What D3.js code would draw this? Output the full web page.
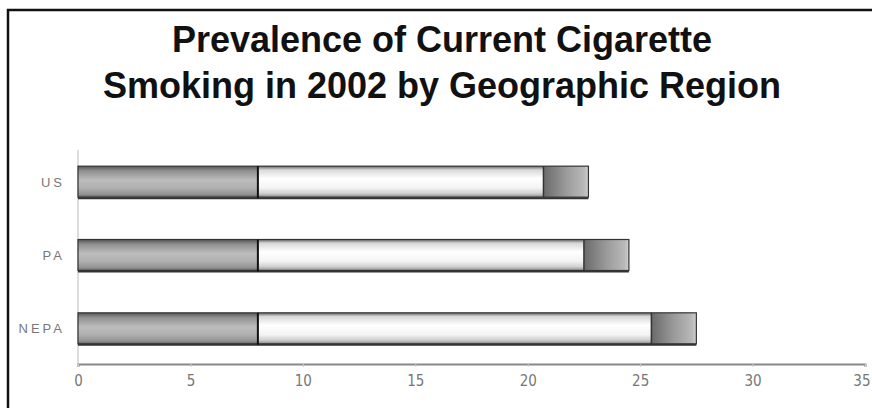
<!DOCTYPE html>
<html><head><meta charset="utf-8">
<script src="https://cdn.jsdelivr.net/npm/d3@7"></script>
<style>body{margin:0;background:#fff}svg{display:block}</style>
</head><body>
<svg id="c" width="872" height="408"></svg>
<script>
const categories = ["US", "PA", "NEPA"];
const baseValues = [8, 8, 8];          // first (gray) segment end
const midValues = [20.7, 22.5, 25.5];  // white segment end
const endValues = [22.7, 24.5, 27.5];  // dark end segment end
const tickValues = [0, 5, 10, 15, 20, 25, 30, 35];
const titleLines = ["Prevalence of Current Cigarette", "Smoking in 2002 by Geographic Region"];

const svg = d3.select("#c");
const defs = svg.append("defs");

const g1 = defs.append("linearGradient").attr("id","gBase").attr("x1",0).attr("y1",0).attr("x2",0).attr("y2",1);
[[0,"#555"],[0.15,"#909090"],[0.45,"#bcbcbc"],[0.7,"#b0b0b0"],[0.9,"#949494"],[1,"#666"]].forEach(s=>g1.append("stop").attr("offset",s[0]).attr("stop-color",s[1]));
const g2 = defs.append("linearGradient").attr("id","gMid").attr("x1",0).attr("y1",0).attr("x2",0).attr("y2",1);
[[0,"#666"],[0.12,"#d8d8d8"],[0.4,"#ffffff"],[0.7,"#f4f4f4"],[0.88,"#cfcfcf"],[1,"#888"]].forEach(s=>g2.append("stop").attr("offset",s[0]).attr("stop-color",s[1]));
const g3 = defs.append("linearGradient").attr("id","gEnd").attr("x1",0).attr("y1",0).attr("x2",1).attr("y2",0);
[[0,"#6a6a6a"],[0.5,"#9a9a9a"],[0.9,"#b8b8b8"],[1,"#d0d0d0"]].forEach(s=>g3.append("stop").attr("offset",s[0]).attr("stop-color",s[1]));

// frame
svg.append("path").attr("d","M8,408 V10 H872").attr("fill","none").attr("stroke","#111").attr("stroke-width",2.5);

// title
svg.selectAll(".title").data(titleLines).join("text").attr("class","title")
  .attr("x",442).attr("y",(d,i)=>52+i*46).attr("text-anchor","middle")
  .attr("font-family","Liberation Sans, Arial, sans-serif").attr("font-weight","bold").attr("font-size",36).attr("fill","#111")
  .text(d=>d);

const x = d3.scaleLinear().domain([0,35]).range([78,865]);
const y = d3.scalePoint().domain(categories).range([145,365]).padding(0.5);
const bh = 31;

// axes
svg.append("line").attr("x1",x(0)).attr("x2",x(0)).attr("y1",150).attr("y2",364).attr("stroke","#bbb").attr("stroke-width",1);
const xAxis = d3.axisBottom(x).tickValues(tickValues).tickSize(3).tickPadding(8).tickFormat(d3.format("d"));
const ax = svg.append("g").attr("transform","translate(0,364)").call(xAxis);
ax.attr("font-size",15).attr("font-family","'Liberation Sans Narrow', 'DejaVu Sans Condensed', sans-serif");
ax.select(".domain").attr("stroke","#888").attr("stroke-width",2);
ax.selectAll(".tick line").attr("stroke","#ccc");
ax.selectAll("text").attr("fill","#777");
ax.selectAll(".tick").filter(d=>d===d3.max(tickValues)).select("text").attr("text-anchor","end").attr("dx",5);

// category labels
svg.selectAll(".cat").data(categories).join("text").attr("class","cat")
  .attr("x",65).attr("y",d=>y(d)+5).attr("text-anchor","end")
  .attr("font-family","Liberation Sans, Arial, sans-serif").attr("font-size",13).attr("letter-spacing",3).attr("fill","#777")
  .text(d=>d);

// bars
const rows = categories.map((c,i)=>({c, b:baseValues[i], m:midValues[i], e:endValues[i]}));
const bars = svg.selectAll(".bar").data(rows).join("g").attr("class","bar");
bars.append("rect").attr("x",d=>x(0)).attr("y",d=>y(d.c)-bh/2).attr("width",d=>x(d.b)-x(0)).attr("height",bh).attr("fill","url(#gBase)");
bars.append("rect").attr("x",d=>x(d.b)).attr("y",d=>y(d.c)-bh/2).attr("width",d=>x(d.m)-x(d.b)).attr("height",bh).attr("fill","url(#gMid)");
bars.append("rect").attr("x",d=>x(d.m)).attr("y",d=>y(d.c)-bh/2).attr("width",d=>x(d.e)-x(d.m)).attr("height",bh).attr("fill","url(#gEnd)");
// outline
bars.append("rect").attr("x",d=>x(0)).attr("y",d=>y(d.c)-bh/2).attr("width",d=>x(d.e)-x(0)).attr("height",bh)
  .attr("fill","none").attr("stroke","#333").attr("stroke-width",1.2);
bars.append("line").attr("x1",d=>x(0)).attr("x2",d=>x(d.e)).attr("y1",d=>y(d.c)+bh/2+1).attr("y2",d=>y(d.c)+bh/2+1).attr("stroke","#333").attr("stroke-width",2);
bars.append("line").attr("x1",d=>x(d.b)).attr("x2",d=>x(d.b)).attr("y1",d=>y(d.c)-bh/2).attr("y2",d=>y(d.c)+bh/2+1).attr("stroke","#111").attr("stroke-width",2);
bars.append("line").attr("x1",d=>x(d.m)).attr("x2",d=>x(d.m)).attr("y1",d=>y(d.c)-bh/2).attr("y2",d=>y(d.c)+bh/2).attr("stroke","#333").attr("stroke-width",1.5);
</script>
</body></html>
